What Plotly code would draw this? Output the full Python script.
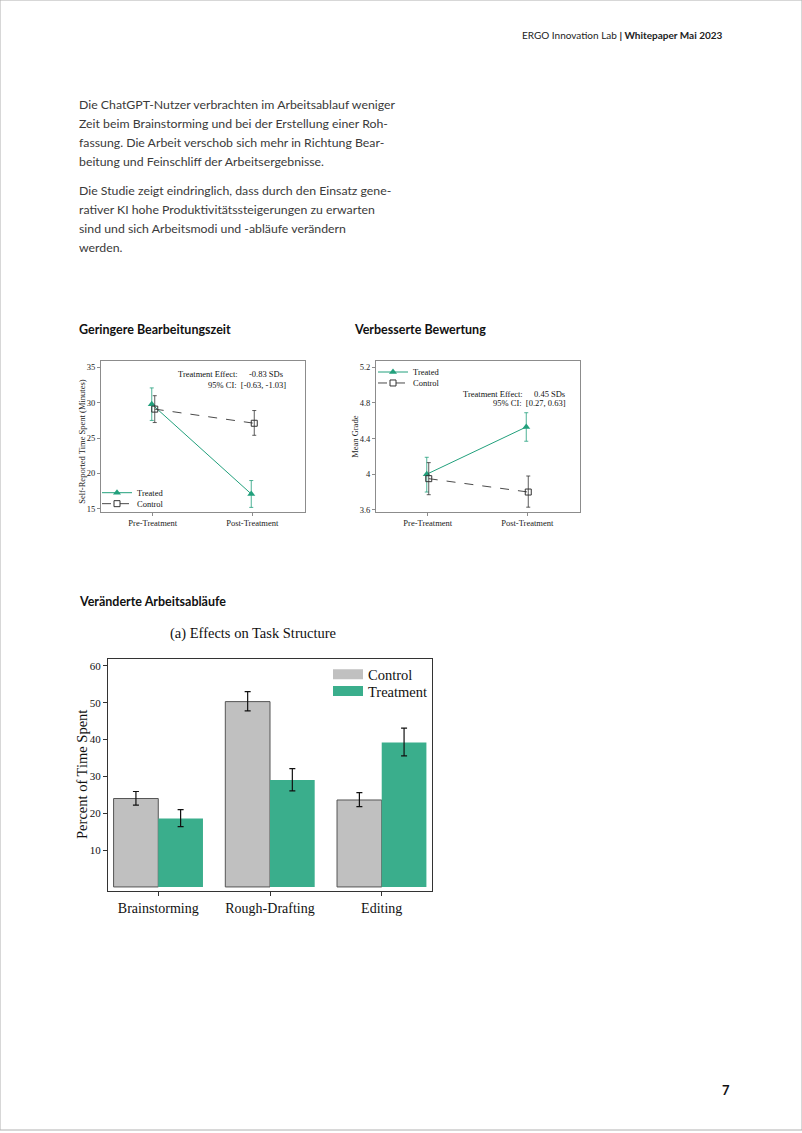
import plotly.graph_objects as go

W, H = 802, 1133

# --- data ---
conditions = ["Pre-Treatment", "Post-Treatment"]

time_treated = [29.8, 17.1]
time_treated_lo = [27.5, 15.2]
time_treated_hi = [32.1, 19.0]
time_control = [29.1, 27.1]
time_control_lo = [27.2, 25.4]
time_control_hi = [31.0, 28.9]

grade_treated = [4.00, 4.53]
grade_treated_lo = [3.80, 4.37]
grade_treated_hi = [4.19, 4.69]
grade_control = [3.95, 3.80]
grade_control_lo = [3.77, 3.63]
grade_control_hi = [4.13, 3.98]

tasks = ["Brainstorming", "Rough-Drafting", "Editing"]
share_control = [24.0, 50.3, 23.6]
share_control_lo = [22.2, 47.8, 21.8]
share_control_hi = [25.9, 53.0, 25.6]
share_treatment = [18.6, 29.0, 39.2]
share_treatment_lo = [16.4, 26.1, 35.6]
share_treatment_hi = [21.0, 32.1, 43.1]

paragraph_1 = [
    "Die ChatGPT-Nutzer verbrachten im Arbeitsablauf weniger",
    "Zeit beim Brainstorming und bei der Erstellung einer Roh-",
    "fassung. Die Arbeit verschob sich mehr in Richtung Bear-",
    "beitung und Feinschliff der Arbeitsergebnisse.",
]
paragraph_2 = [
    "Die Studie zeigt eindringlich, dass durch den Einsatz gene-",
    "rativer KI hohe Produktivitätssteigerungen zu erwarten",
    "sind und sich Arbeitsmodi und -abläufe verändern",
    "werden.",
]

TEAL = "#22a07c"
BAR_TEAL = "#3aae8c"
BAR_GREY = "#c0c0c0"
DARK = "#4a4a4a"
SERIF = "Liberation Serif"
SANS = "Lato"


def px(x):
    return x / W


def py(y):
    return 1 - y / H


def err(v, lo, hi):
    return dict(type="data", array=[h - a for a, h in zip(v, hi)],
                arrayminus=[a - l for a, l in zip(v, lo)])


fig = go.Figure()

# --- chart 1: time spent ---
fig.add_trace(go.Scatter(
    x=[i - 0.01 for i in range(len(conditions))], y=time_treated,
    mode="lines+markers", name="Treated", legend="legend2",
    line=dict(color=TEAL, width=1),
    marker=dict(symbol="triangle-up", size=7, color=TEAL),
    error_y=dict(**err(time_treated, time_treated_lo, time_treated_hi),
                 color=TEAL, thickness=0.8, width=2),
    xaxis="x", yaxis="y"))
fig.add_trace(go.Scatter(
    x=[i + 0.02 for i in range(len(conditions))], y=time_control,
    mode="lines+markers", name="Control", legend="legend3",
    line=dict(color=DARK, width=1, dash="dash"),
    marker=dict(symbol="square-open", size=6, color="#333", line=dict(width=1)),
    error_y=dict(**err(time_control, time_control_lo, time_control_hi),
                 color="#333", thickness=0.8, width=2),
    xaxis="x", yaxis="y"))

# --- chart 2: grades ---
fig.add_trace(go.Scatter(
    x=[i - 0.01 for i in range(len(conditions))], y=grade_treated,
    mode="lines+markers", name="Treated", legend="legend4",
    line=dict(color=TEAL, width=1),
    marker=dict(symbol="triangle-up", size=7, color=TEAL),
    error_y=dict(**err(grade_treated, grade_treated_lo, grade_treated_hi),
                 color=TEAL, thickness=0.8, width=2),
    xaxis="x2", yaxis="y2"))
fig.add_trace(go.Scatter(
    x=[i + 0.01 for i in range(len(conditions))], y=grade_control,
    mode="lines+markers", name="Control", legend="legend5",
    line=dict(color=DARK, width=1, dash="dash"),
    marker=dict(symbol="square-open", size=6, color="#333", line=dict(width=1)),
    error_y=dict(**err(grade_control, grade_control_lo, grade_control_hi),
                 color="#333", thickness=0.8, width=2),
    xaxis="x2", yaxis="y2"))

# --- chart 3: task structure ---
fig.add_trace(go.Bar(
    x=tasks, y=share_control, name="Control", showlegend=False,
    marker=dict(color=BAR_GREY, line=dict(color="#555", width=1)),
    error_y=dict(**err(share_control, share_control_lo, share_control_hi),
                 color="#111", thickness=1.2, width=3),
    xaxis="x3", yaxis="y3"))
fig.add_trace(go.Bar(
    x=tasks, y=share_treatment, name="Treatment", showlegend=False,
    marker=dict(color=BAR_TEAL, line=dict(width=0)),
    error_y=dict(**err(share_treatment, share_treatment_lo, share_treatment_hi),
                 color="#111", thickness=1.2, width=3),
    xaxis="x3", yaxis="y3"))
# legend swatches for the bars
fig.add_trace(go.Scatter(x=[None], y=[None], mode="lines", name="Control",
                         legend="legend6", line=dict(color=BAR_GREY, width=10),
                         xaxis="x3", yaxis="y3"))
fig.add_trace(go.Scatter(x=[None], y=[None], mode="lines", name="Treatment",
                         legend="legend7", line=dict(color=BAR_TEAL, width=10),
                         xaxis="x3", yaxis="y3"))


def small_axis(dom, rng, **kw):
    return dict(domain=dom, range=rng, showgrid=False, zeroline=False,
                showline=True, mirror=True, linecolor="#8c8c8c", linewidth=1,
                ticks="outside", ticklen=3, tickcolor="#8c8c8c",
                tickfont=dict(family=SERIF, size=8.5, color="#222"), **kw)


def legend_at(x, y, size):
    return dict(x=px(x), y=py(y), xanchor="left", yanchor="middle",
                bgcolor="rgba(0,0,0,0)", borderwidth=0, itemwidth=30,
                font=dict(family=SERIF, size=size, color="#111"))


anns = []


def text(x, y, s, size, family=SANS, color="#333", xanchor="left", angle=0):
    anns.append(dict(x=px(x), y=py(y), xref="paper", yref="paper", text=s,
                     showarrow=False, xanchor=xanchor, yanchor="middle",
                     textangle=angle, font=dict(family=family, size=size, color=color)))


text(725, 35, "ERGO Innovation Lab <b>| Whitepaper Mai 2023</b>", 10, xanchor="right", color="#222")
for i, line in enumerate(paragraph_1):
    text(77, 105 + 19 * i, line, 12.3, color="#3a3a3a")
for i, line in enumerate(paragraph_2):
    text(77, 191 + 19 * i, line, 12.3, color="#3a3a3a")
text(77, 330, "<b>Geringere Bearbeitungszeit</b>", 12.5, color="#111")
text(352, 330, "<b>Verbesserte Bewertung</b>", 12.5, color="#111")
text(77, 603, "<b>Veränderte Arbeitsabläufe</b>", 12.5, color="#111")
text(720, 1093, "<b>7</b>", 13, color="#111")

text(82, 443, "Self-Reported Time Spent (Minutes)", 8.5, SERIF, "#222", "center", -90)
text(176, 375, "Treatment Effect:", 8.5, SERIF, "#111")
text(247, 375, "-0.83 SDs", 8.5, SERIF, "#111")
text(288, 386, "95% CI:  [-0.63, -1.03]", 8.5, SERIF, "#111", "right")

text(355, 438, "Mean Grade", 8.5, SERIF, "#222", "center", -90)
text(461, 395, "Treatment Effect:", 8.5, SERIF, "#111")
text(532, 395, "0.45 SDs", 8.5, SERIF, "#111")
text(568, 404, "95% CI:  [0.27, 0.63]", 8.5, SERIF, "#111", "right")

text(253, 635, "(a) Effects on Task Structure", 14.5, SERIF, "#111", "center")
text(82, 777, "Percent of Time Spent", 14.5, SERIF, "#111", "center", -90)

fig.update_layout(
    width=W, height=H,
    margin=dict(l=0, r=0, t=0, b=0),
    paper_bgcolor="white", plot_bgcolor="white",
    barmode="group", bargap=0.2, bargroupgap=0,
    xaxis=small_axis([px(101), px(305)], [-0.52, 1.53], tickvals=[0, 1],
                     ticktext=conditions, anchor="y"),
    yaxis=small_axis([py(513), py(362)], [14.6, 35.9], tickvals=[15, 20, 25, 30, 35],
                     anchor="x"),
    xaxis2=small_axis([px(376), px(580)], [-0.52, 1.53], tickvals=[0, 1],
                      ticktext=conditions, anchor="y2"),
    yaxis2=small_axis([py(513), py(362)], [3.58, 5.27], tickvals=[3.6, 4.0, 4.4, 4.8, 5.2],
                      anchor="x2"),
    xaxis3=dict(domain=[px(108), px(432)], range=[-0.45, 2.45], anchor="y3",
                showgrid=False, zeroline=False, showline=True, mirror=True,
                linecolor="#333", linewidth=1.3, ticks="outside", ticklen=4,
                tickcolor="#333", tickfont=dict(family=SERIF, size=14, color="#111")),
    yaxis3=dict(domain=[py(893), py(661)], range=[-1, 61.8], anchor="x3",
                tickvals=[10, 20, 30, 40, 50, 60],
                showgrid=False, zeroline=False, showline=True, mirror=True,
                linecolor="#333", linewidth=1.3, ticks="outside", ticklen=4,
                tickcolor="#333", tickfont=dict(family=SERIF, size=11, color="#111")),
    showlegend=True,
    legend2=legend_at(97, 494, 8.5),
    legend3=legend_at(97, 505, 8.5),
    legend4=legend_at(373, 373, 8.5),
    legend5=legend_at(373, 384, 8.5),
    legend6=legend_at(328, 676, 14.5),
    legend7=legend_at(328, 693, 14.5),
    annotations=anns,
    shapes=[dict(type="rect", xref="paper", yref="paper", x0=0, y0=0, x1=1, y1=1,
                 line=dict(color="#b0b0b0", width=1))],
)

# the page is photographed at 802x1133, so drop the default body margin
fig.write_html("out.html", config={"displayModeBar": False},
               post_script="document.body.style.margin='0';document.body.style.overflow='hidden';")
